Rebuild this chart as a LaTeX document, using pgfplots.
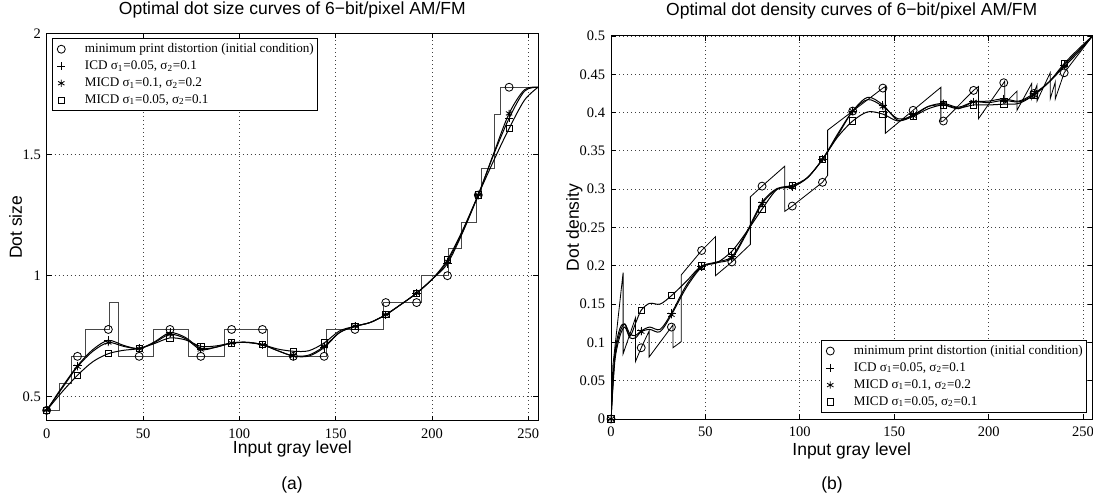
\documentclass[border=0pt]{standalone}
\usepackage{fontspec}
\setmainfont{Liberation Sans}
\newfontfamily\tms{Liberation Serif}
\usepackage{pgfplots}
\pgfplotsset{compat=1.18}
\pgfplotsset{
  mat/.style={
    scale only axis,
    xmin=0, xmax=255,
    xtick={0,50,100,150,200,250},
    grid=major,
    grid style={dotted, line width=0.5pt, black!75},
    axis line style={line width=0.6pt},
    tick align=inside,
    major tick length=3pt,
    tick style={black, line width=0.5pt},
    /pgf/number format/assume math mode=true,
    /pgf/number format/fixed,
    /pgf/number format/precision=2,
    ticklabel style={font=\tms\fontsize{8.7}{10}\selectfont},
    xticklabel style={yshift=-1.4pt},
    title style={font=\fontsize{10.5}{12}\selectfont, at={(0.5,1)}, anchor=base},
    xlabel style={font=\fontsize{10.5}{12}\selectfont, at={(0.5,0)}, anchor=base},
    ylabel style={font=\fontsize{10.5}{12}\selectfont, anchor=base},
    legend cell align=left,
    legend style={font=\tms\fontsize{7.9}{9}\selectfont, draw=black, line width=0.5pt,
      fill=white, inner xsep=1pt, inner ysep=1.8pt, row sep=1.2pt,
      nodes={inner sep=1.1pt}},
  },
  ln/.style={forget plot, black, line width=0.6pt, smooth},
  mk/.style={only marks, black, line width=0.5pt,
    legend image code/.code={\path (0cm,-1pt) (0.6cm,1pt);
      \draw[mark repeat=2,mark phase=2] plot coordinates {(0cm,0cm)(0.15cm,0cm)(0.3cm,0cm)};}},
  mo/.style={mk, mark=o, mark size=2.4pt},
  mp/.style={mk, mark=+, mark size=2.5pt},
  ma/.style={mk, mark=asterisk, mark size=2.2pt},
  ms/.style={mk, mark=square, mark size=1.9pt},
}
\begin{document}
\begin{tikzpicture}
% ---------------- (a) dot size ----------------
\begin{axis}[mat, at={(28.0pt,44.4pt)}, anchor=south west,
  width=294.8pt, height=232.5pt,
  ymin=0.4, ymax=2, ytick={0.5,1,1.5,2},
  title={Optimal dot size curves of 6−bit/pixel AM/FM},
  title style={yshift=5.1pt},
  xlabel={Input gray level}, xlabel style={yshift=-19.8pt},
  ylabel={Dot size}, ylabel style={at={(-0.0503,0.5)}},
  legend style={at={(0.0102,0.988)}, anchor=north west}]
\addplot[forget plot, black!72, line width=0.5pt] coordinates {
(0,0.444)(6.4,0.444)(6.4,0.556)(12.96,0.556)(12.96,0.667)(20.2,0.667)(20.2,0.778)
(32.8,0.778)(32.8,0.889)(37.2,0.889)(37.2,0.667)(55.3,0.667)(55.3,0.778)(73.8,0.778)
(73.8,0.667)(92,0.667)(92,0.778)(114.7,0.778)(114.7,0.667)(145.3,0.667)(145.3,0.778)
(174.7,0.778)(174.7,0.889)(194.6,0.889)(194.6,1)(208.5,1)(208.5,1.111)(215,1.111)
(215,1.222)(222.8,1.222)(222.8,1.333)(225.6,1.333)(225.6,1.444)(232.6,1.444)
(232.6,1.667)(235.3,1.667)(235.3,1.778)(255,1.778)};
\addplot[ln] coordinates {(0,0.444)(8,0.54)(16,0.628)(24,0.695)(32,0.733)(40,0.712)(48,0.699)
(56,0.727)(64,0.765)(72,0.745)(80,0.70)(88,0.705)(96,0.722)(104,0.725)(112,0.715)(120,0.69)
(128,0.668)(136,0.668)(144,0.703)(152,0.765)(160,0.791)(168,0.807)(176,0.839)(184,0.882)
(192,0.928)(200,0.985)(208,1.05)(216,1.18)(224,1.334)(232,1.50)(240,1.65)(248,1.762)(255,1.778)};
\addplot[ln] coordinates {(0,0.444)(8,0.535)(16,0.624)(24,0.688)(32,0.724)(40,0.708)(48,0.699)
(56,0.724)(64,0.758)(72,0.74)(80,0.695)(88,0.705)(96,0.722)(104,0.725)(112,0.715)(120,0.69)
(128,0.669)(136,0.672)(144,0.708)(152,0.765)(160,0.791)(168,0.807)(176,0.839)(184,0.882)
(192,0.928)(200,0.985)(208,1.059)(216,1.185)(224,1.334)(232,1.505)(240,1.67)(248,1.768)(255,1.778)};
\addplot[ln] coordinates {(0,0.444)(8,0.52)(16,0.589)(24,0.645)(32,0.678)(40,0.692)(48,0.699)
(56,0.72)(64,0.743)(72,0.735)(80,0.708)(88,0.71)(96,0.722)(104,0.724)(112,0.715)(120,0.697)
(128,0.688)(136,0.69)(144,0.722)(152,0.772)(160,0.791)(168,0.807)(176,0.839)(184,0.882)
(192,0.928)(200,0.985)(208,1.066)(216,1.19)(224,1.334)(232,1.475)(240,1.608)(248,1.725)(255,1.778)};
\addplot[mo] coordinates {(0,0.444)(16,0.667)(32,0.778)(48,0.667)(64,0.778)(80,0.667)(96,0.778)
(112,0.778)(128,0.667)(144,0.667)(160,0.778)(176,0.889)(192,0.889)(208,1)(224,1.333)(240,1.778)};
\addlegendentry{minimum print distortion (initial condition)}
\addplot[mp] coordinates {(0,0.444)(16,0.628)(32,0.733)(48,0.699)(64,0.765)(80,0.70)(96,0.722)
(112,0.715)(128,0.668)(144,0.703)(160,0.791)(176,0.839)(192,0.928)(208,1.05)(224,1.334)(240,1.65)};
\addlegendentry{ICD σ\textsubscript{1}=0.05, σ\textsubscript{2}=0.1}
\addplot[ma] coordinates {(0,0.444)(16,0.624)(32,0.724)(48,0.699)(64,0.758)(80,0.695)(96,0.722)
(112,0.715)(128,0.669)(144,0.708)(160,0.791)(176,0.839)(192,0.928)(208,1.059)(224,1.334)(240,1.67)};
\addlegendentry{MICD σ\textsubscript{1}=0.1, σ\textsubscript{2}=0.2}
\addplot[ms] coordinates {(0,0.444)(16,0.589)(32,0.678)(48,0.699)(64,0.743)(80,0.708)(96,0.722)
(112,0.715)(128,0.688)(144,0.722)(160,0.791)(176,0.839)(192,0.928)(208,1.066)(224,1.334)(240,1.608)};
\addlegendentry{MICD σ\textsubscript{1}=0.05, σ\textsubscript{2}=0.1}
\end{axis}
% ---------------- (b) dot density ----------------
\begin{axis}[mat, at={(366.6pt,45.6pt)}, anchor=south west,
  width=288.9pt, height=229.8pt,
  ymin=0, ymax=0.5, ytick={0,0.05,0.1,0.15,0.2,0.25,0.3,0.35,0.4,0.45,0.5},
  title={Optimal dot density curves of 6−bit/pixel AM/FM},
  title style={yshift=6pt},
  xlabel={Input gray level}, xlabel style={yshift=-21.6pt},
  ylabel={Dot density}, ylabel style={at={(-0.0665,0.5)}},
  legend style={at={(0.988,0.016)}, anchor=south east}]
\addplot[forget plot, black, line width=0.5pt] coordinates {
(0,0)(1,0.07)(6.4,0.191)(6.4,0.085)(12.96,0.132)(12.96,0.075)(16,0.093)(20.2,0.115)
(20.2,0.081)(32,0.12)(32.8,0.123)(32.8,0.093)(37.2,0.101)(37.2,0.188)(48,0.22)(55.3,0.238)
(55.3,0.187)(64,0.205)(73.8,0.228)(73.8,0.29)(80,0.304)(92,0.33)(92,0.271)(96,0.278)
(112,0.309)(114.7,0.318)(114.7,0.377)(128,0.402)(144,0.432)(145.3,0.434)(145.3,0.373)
(160,0.403)(174.7,0.433)(174.7,0.388)(176,0.389)(192,0.429)(194.6,0.434)(194.6,0.392)
(208,0.439)(208.5,0.441)(208.5,0.412)(215,0.428)(215,0.403)(222.8,0.438)(222.8,0.418)
(225.6,0.436)(225.6,0.415)(232.6,0.452)(232.6,0.418)(235.3,0.44)(235.3,0.418)(240,0.452)(255,0.5)};
\addplot[ln] coordinates {(0,0)(2,0.08)(4.7,0.113)(7.3,0.124)(10,0.111)(13,0.109)(16,0.115)
(20.5,0.12)(26,0.117)(32,0.138)(40,0.175)(48,0.199)(56,0.205)(64,0.212)(72,0.245)(80,0.283)
(88,0.301)(96,0.303)(104,0.315)(112,0.339)(120,0.37)(128,0.402)(136,0.42)(144,0.41)(152,0.39)
(160,0.397)(168,0.408)(176,0.41)(184,0.405)(192,0.414)(200,0.415)(208,0.418)(216,0.415)
(224,0.425)(232,0.44)(240,0.462)(248,0.482)(255,0.5)};
\addplot[ln] coordinates {(0,0)(2,0.075)(4.7,0.108)(7.3,0.12)(10,0.106)(13,0.106)(16,0.114)
(20.5,0.117)(26,0.114)(32,0.136)(40,0.172)(48,0.198)(56,0.204)(64,0.21)(72,0.243)(80,0.281)
(88,0.3)(96,0.303)(104,0.315)(112,0.339)(120,0.372)(128,0.402)(136,0.417)(144,0.408)(152,0.392)
(160,0.396)(168,0.408)(176,0.412)(184,0.407)(192,0.414)(200,0.413)(208,0.416)(216,0.414)
(224,0.423)(232,0.44)(240,0.46)(248,0.48)(255,0.5)};
\addplot[ln] coordinates {(0,0)(2,0.085)(4.7,0.118)(7.3,0.124)(10,0.108)(13,0.125)(16,0.142)
(20.5,0.151)(26,0.15)(32,0.161)(40,0.18)(48,0.2)(56,0.204)(64,0.219)(72,0.245)(80,0.274)
(88,0.3)(96,0.305)(104,0.315)(112,0.339)(120,0.368)(128,0.389)(136,0.401)(144,0.398)(152,0.389)
(160,0.395)(168,0.405)(176,0.41)(184,0.406)(192,0.41)(200,0.41)(208,0.411)(216,0.412)
(224,0.423)(232,0.44)(240,0.464)(248,0.484)(255,0.5)};
\addplot[mo] coordinates {(0,0)(16,0.093)(32,0.12)(48,0.22)(64,0.205)(80,0.304)(96,0.278)
(112,0.309)(128,0.402)(144,0.432)(160,0.403)(176,0.389)(192,0.429)(208,0.439)(224,0.425)(240,0.452)};
\addlegendentry{minimum print distortion (initial condition)}
\addplot[mp] coordinates {(0,0)(16,0.115)(32,0.138)(48,0.199)(64,0.212)(80,0.283)(96,0.303)
(112,0.339)(128,0.402)(144,0.41)(160,0.397)(176,0.41)(192,0.414)(208,0.418)(224,0.425)(240,0.462)};
\addlegendentry{ICD σ\textsubscript{1}=0.05, σ\textsubscript{2}=0.1}
\addplot[ma] coordinates {(0,0)(16,0.114)(32,0.136)(48,0.198)(64,0.21)(80,0.281)(96,0.303)
(112,0.339)(128,0.402)(144,0.408)(160,0.396)(176,0.412)(192,0.414)(208,0.416)(224,0.423)(240,0.46)};
\addlegendentry{MICD σ\textsubscript{1}=0.1, σ\textsubscript{2}=0.2}
\addplot[ms] coordinates {(0,0)(16,0.142)(32,0.161)(48,0.2)(64,0.219)(80,0.274)(96,0.305)
(112,0.339)(128,0.389)(144,0.398)(160,0.395)(176,0.41)(192,0.41)(208,0.411)(224,0.423)(240,0.464)};
\addlegendentry{MICD σ\textsubscript{1}=0.05, σ\textsubscript{2}=0.1}
\end{axis}
\node[font=\fontsize{10.5}{12}\selectfont, anchor=base] at (175.2pt,3pt) {(a)};
\node[font=\fontsize{10.5}{12}\selectfont, anchor=base] at (499.2pt,3pt) {(b)};
\pgfresetboundingbox
\path[use as bounding box] (0,0) rectangle (655.8pt,297pt);
\end{tikzpicture}
\end{document}
